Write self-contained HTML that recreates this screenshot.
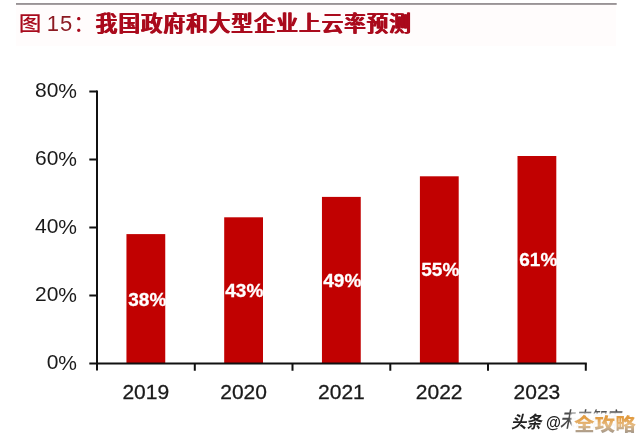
<!DOCTYPE html>
<html lang="zh-CN">
<head>
<meta charset="utf-8">
<title>图 15：我国政府和大型企业上云率预测</title>
<style>
html,body{margin:0;padding:0;background:#fff;}
body{width:640px;height:442px;position:relative;overflow:hidden;font-family:"Liberation Sans","Noto Sans CJK SC",sans-serif;}
.abs{position:absolute;}
svg{position:absolute;left:0;top:0;}
.title{left:18.5px;top:9px;height:30px;line-height:30px;font-size:22px;color:#a80a1c;white-space:nowrap;}
.title i{font-style:normal;font-weight:500;display:inline-block;transform:scale(1.03,.92);transform-origin:50% 55%;}
.title u{text-decoration:none;font-size:22px;letter-spacing:1.1px;color:#8c1a22;}
.title b{font-weight:500;font-size:21.5px;letter-spacing:1.08px;margin-left:.5px;color:#aa0a1c;text-shadow:.75px 0 0 #aa0a1c,-.75px 0 0 #aa0a1c;}
.yl{width:60px;text-align:right;left:16.9px;font-size:21px;transform:translateY(-.5px) rotate(.01deg);line-height:24px;height:24px;color:#1a1a1a;}
.xl{width:98px;text-align:center;top:379.5px;font-size:21px;line-height:24px;height:24px;color:#1a1a1a;-webkit-text-stroke:.3px #1a1a1a;}
.bl{width:60px;text-align:center;color:#fff;font-weight:700;font-size:19px;line-height:20px;height:20px;-webkit-text-stroke:.3px #fff;transform:translate(.3px,-.3px) rotate(.01deg);}
.wm1{left:510.6px;top:411px;font-size:17px;line-height:24px;height:24px;font-style:italic;font-weight:700;color:#222;white-space:nowrap;transform:scaleX(.9);transform-origin:0 50%;text-shadow:0 0 2px #fff,0 0 2px #fff,1px 1px 1px #fff,-1px -1px 1px #fff;}
.wm1b{left:560px;top:406px;font-size:21px;line-height:28px;height:28px;font-style:italic;font-weight:500;color:#4a4a4a;white-space:nowrap;transform:scaleX(.72);transform-origin:0 50%;text-shadow:0 0 2px #fff,0 0 2px #fff,1px 1px 1px #fff,-1px -1px 1px #fff;}
.wm2box{left:572px;top:414px;width:68px;height:23px;background:rgba(255,255,255,.96);box-shadow:0 0 2px 1px rgba(255,255,255,.9);}
.wm2{left:574px;top:410.5px;font-size:20.6px;line-height:28px;height:28px;font-weight:900;white-space:nowrap;transform:scaleY(.86);transform-origin:0 50%;background:linear-gradient(#e29c42 22%,#e6bc84 50%,#a89a8a 80%);-webkit-background-clip:text;background-clip:text;color:transparent;}
</style>
</head>
<body>
<svg width="640" height="442" viewBox="0 0 640 442">
  <rect x="16" y="5" width="600" height="41" fill="#fffcfc"/>
  <rect x="16" y="3.1" width="600.7" height="1.7" fill="#8e888b"/>
  <g fill="#c10101">
    <rect x="126.45" y="234.1" width="38.8" height="129.5"/>
    <rect x="224.20" y="217.3" width="38.8" height="146.3"/>
    <rect x="321.95" y="196.9" width="38.8" height="166.7"/>
    <rect x="419.90" y="176.3" width="38.8" height="187.3"/>
    <rect x="517.50" y="156.0" width="38.8" height="207.6"/>
  </g>
  <g stroke="#111" stroke-width="2" fill="none">
    <path d="M97 90.4V370.5"/>
    <path d="M89.3 91.4H97M89.3 159.4H97M89.3 227.4H97M89.3 295.4H97"/>
    <path d="M89.3 363.6H586.8"/>
    <path d="M194.8 363.6V370.7M292.5 363.6V370.7M390.3 363.6V370.7M488 363.6V370.7M585.8 363.6V370.7"/>
  </g>
</svg>
<div class="abs title"><i>图</i> <u>15</u>：<b>我国政府和大型企业上云率预测</b></div>

<div class="abs yl" style="top:79px">80%</div>
<div class="abs yl" style="top:147px">60%</div>
<div class="abs yl" style="top:215px">40%</div>
<div class="abs yl" style="top:283px">20%</div>
<div class="abs yl" style="top:351px">0%</div>

<div class="abs bl" style="left:116.5px;top:289.5px">38%</div>
<div class="abs bl" style="left:214px;top:280.5px">43%</div>
<div class="abs bl" style="left:312px;top:270.5px">49%</div>
<div class="abs bl" style="left:409.5px;top:260px">55%</div>
<div class="abs bl" style="left:507.5px;top:250px">61%</div>

<div class="abs xl" style="left:96.8px">2019</div>
<div class="abs xl" style="left:194.6px">2020</div>
<div class="abs xl" style="left:292.4px">2021</div>
<div class="abs xl" style="left:390.2px">2022</div>
<div class="abs xl" style="left:487.9px">2023</div>

<div class="abs wm1">头条 @</div>
<div class="abs wm1b">未来智库</div>
<div class="abs wm2box"></div>
<div class="abs wm2">全攻略</div>
</body>
</html>
